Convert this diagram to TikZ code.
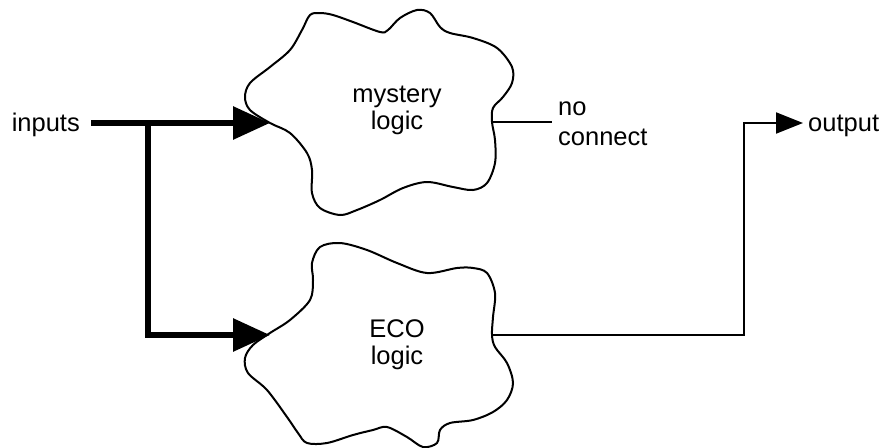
\documentclass[tikz,border=0pt]{standalone}
\usepackage{fontspec}
\setmainfont{Liberation Sans}
\usetikzlibrary{arrows.meta}
\begin{document}
\begin{tikzpicture}[x=1pt,y=-1pt,
  cloud/.style={draw=black,line width=2pt,fill=white},
  bus/.style={draw=black,line width=6pt,line join=miter},
  busarrow/.style={bus,-{Triangle[length=37pt,width=32pt]}},
  wire/.style={draw=black,line width=2pt},
  wirearrow/.style={wire,-{Triangle[length=27pt,width=21pt]}},
  lbl/.style={inner sep=0pt,font=\fontsize{25.5}{27}\selectfont}]
\useasboundingbox (0,0) rectangle (882,447);
\fill[white] (0,0) rectangle (882,447);
% clouds
\path[cloud] plot[smooth cycle,tension=0.55] coordinates {
 (270,123) (250,110) (245,97) (250,83) (270,67) (290,50) (302,30) (310,15)
 (320,13) (333,15) (353,22) (380,32) (388,30) (400,18) (417,10) (430,13)
 (440,27) (450,33) (473,38) (497,48) (512,67) (512,83) (503,97) (493,108)
 (492,122) (495,140) (495,163) (487,183) (473,190) (453,187) (427,182)
 (403,188) (380,200) (357,210) (340,215) (320,208) (312,193) (312,170)
 (307,153) (290,133)};
\path[cloud] plot[smooth cycle,tension=0.55] coordinates {
 (270,333) (290,320) (310,300) (313,280) (312,263) (320,247) (340,243)
 (367,250) (397,263) (427,273) (457,268) (473,268) (487,273) (495,293)
 (493,317) (492,335) (495,347) (507,363) (513,383) (507,400) (493,412)
 (473,420) (450,423) (440,430) (437,443) (423,447) (407,437) (387,427)
 (373,430) (353,435) (327,443) (307,443) (298,433) (287,417) (267,390)
 (248,373) (245,358) (253,345)};
% anchor points
\coordinate (inS) at (91,123);
\coordinate (br) at (148,123);
\coordinate (topIn) at (270,123);
\coordinate (botIn) at (270,335);
\coordinate (ncOut) at (492,122);
\coordinate (ncEnd) at (552,122);
\coordinate (ecoOut) at (492,335);
\coordinate (turn) at (744,335);
\coordinate (outTip) at (803,123);
% labels
\node[lbl,anchor=base east] (inputs) at (80,131) {inputs};
\node[lbl,align=center] (mystery) at (397,110.5) {mystery\\logic};
\node[lbl,align=center] (eco) at (397,345) {ECO\\logic};
\node[lbl,align=left,anchor=west,font=\fontsize{25.5}{30}\selectfont] (nc) at (558,123.4) {no\\connect};
\node[lbl,anchor=base west] (output) at (808,131) {output};
% connectors
\draw[busarrow] (inS) -- (topIn);
\draw[busarrow] (br) |- (botIn);
\draw[wire] (ncOut) -- (ncEnd);
\draw[wirearrow] (ecoOut) -- (turn) |- (outTip);
\end{tikzpicture}
\end{document}
